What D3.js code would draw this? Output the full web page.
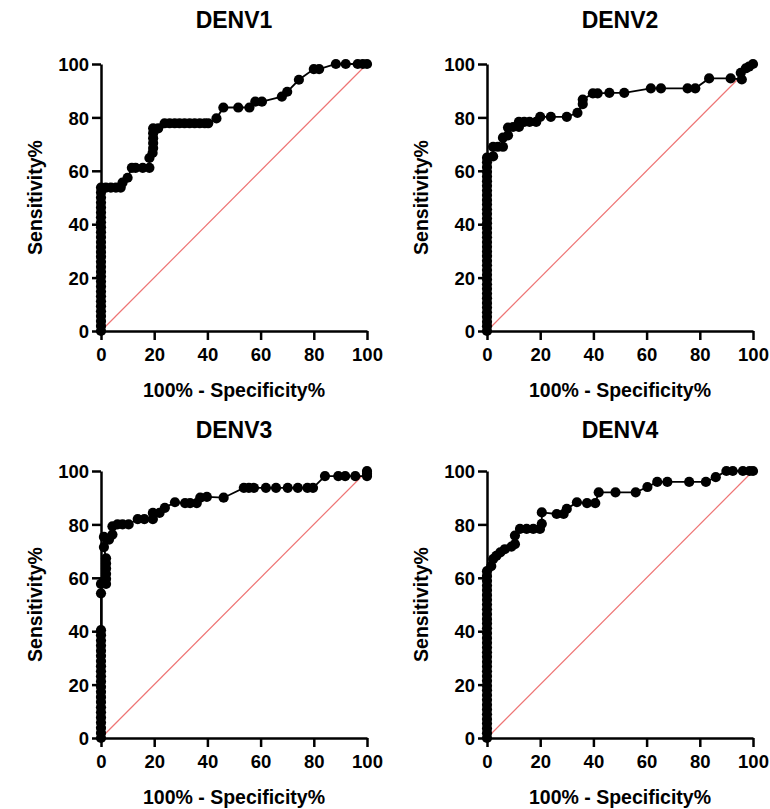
<!DOCTYPE html>
<html lang="en">
<head>
	<meta charset="UTF-8">
	<script src="https://cdn.jsdelivr.net/npm/d3@7"></script>
	<title>ROC curves DENV1-4</title>
	<style>
		body { margin: 0; background: #fff; font-family: "Liberation Sans", Arial, sans-serif; }
		.tick text { font-family: "Liberation Sans", Arial, sans-serif; font-weight: bold; font-size: 18.5px; fill: #000; }
		.domain, .tick line { stroke: #000; stroke-width: 2.5; }
		.title { font-weight: bold; font-size: 23px; }
		.alabel { font-weight: bold; font-size: 19.5px; }
	</style>
</head>
<body>
	<svg id="chart" width="770" height="809"></svg>
	<script>
		// panel titles and axis ticks
		const titles = ['DENV1', 'DENV2', 'DENV3', 'DENV4'];
		const tickValues = [0, 20, 40, 60, 80, 100];
		const xLabel = '100% - Specificity%';
		const yLabel = 'Sensitivity%';

		// DENV1 (100% - specificity, sensitivity)
		const denv1X = [0, 0, 0, 0, 0, 0, 0, 0, 0, 0, 0, 0, 0, 0, 0, 0, 0, 0, 0, 0, 0, 0, 0, 0, 0, 0, 0, 0, 0, 0,
			1.8, 3.7, 5.6, 7.4, 8.1, 10, 11.6, 13, 15.7, 18.2, 18.2, 19.4, 19.6, 19.6, 19.6, 19.6, 19.6, 21.5, 23.9,
			25.8, 27.7, 29.5, 31.4, 33.3, 35.2, 37.1, 39, 40.3, 43.4, 46, 51.6, 55.8, 58, 60.5, 68, 70, 74.4, 80, 82,
			88.3, 92, 96.5, 98.4, 100];
		const denv1Y = [0, 1.9, 3.7, 5.6, 7.4, 9.3, 11.1, 13, 14.8, 16.7, 18.5, 20.4, 22.2, 24.1, 25.9, 27.8, 29.6, 31.5, 33.3, 35.2, 37, 38.9, 40.7, 42.6, 44.4, 46.3, 48.1, 50, 51.9, 53.7,
			53.7, 53.7, 53.7, 53.7, 55.6, 57.4, 61.1, 61.1, 61.1, 61.1, 64.8, 66.7, 68.5, 70.4, 72.2, 74.1, 75.9, 75.9, 77.8,
			77.8, 77.8, 77.8, 77.8, 77.8, 77.8, 77.8, 77.8, 77.8, 79.6, 83.7, 83.7, 83.7, 85.9, 85.9, 87.8, 89.6, 94.1, 98.1, 98.1,
			100, 100, 100, 100, 100];

		// DENV2
		const denv2X = [0, 0, 0, 0, 0, 0, 0, 0, 0, 0, 0, 0, 0, 0, 0, 0, 0, 0, 0, 0, 0, 0, 0, 0, 0, 0, 0, 0, 0, 0, 0, 0, 0, 0, 0, 0, 0, 0,
			2.3, 2.3, 4.1, 6, 6, 7.9, 7.9, 9.8, 12, 12, 14, 16, 18.5, 20, 24, 30, 34, 36, 36, 39.8, 41.6, 46, 51.6,
			61.6, 65.4, 75.4, 78.3, 83.5, 91.6, 95.8, 95.4, 97.3, 98.5, 100];
		const denv2Y = [0, 1.8, 3.5, 5.3, 7, 8.8, 10.5, 12.3, 14, 15.8, 17.5, 19.3, 21.1, 22.8, 24.6, 26.3, 28.1, 29.8, 31.6, 33.3, 35.1, 36.8, 38.6, 40.4, 42.1, 43.9, 45.6, 47.4, 49.1, 50.9, 52.6, 54.4, 56.1, 57.9, 59.6, 61.4, 63.2, 64.9,
			65.4, 69, 69, 69, 72.4, 73.3, 76.2, 76.4, 76.4, 78.3, 78.3, 78.3, 78.3, 80.2, 80.2, 80.2, 81.7, 85, 86.7, 89, 89, 89.2, 89.2,
			90.9, 90.9, 90.9, 90.9, 94.6, 94.6, 94.2, 96.7, 98.4, 99, 100];

		// DENV3
		const denv3X = [0, 0, 0, 0, 0, 0, 0, 0, 0, 0, 0, 0, 0, 0, 0, 0, 0, 0, 0, 0, 0, 0,
			0, 0, 1.9, 1.9, 1.9, 1.9, 1.9, 1.9, 1.1, 1.1, 3, 4.3, 4.3, 6.2, 8.1, 10.4, 13.8, 16.3, 19.5, 19.5, 22, 24,
			27.8, 31.6, 33.5, 36, 37.3, 39.8, 46.1, 53.7, 55.6, 57.5, 62, 65.8, 70.2, 74, 77.6, 79.7, 84.2, 89.2,
			91.8, 95.6, 100, 100, 100];
		const denv3Y = [0, 1.9, 3.8, 5.8, 7.7, 9.6, 11.5, 13.5, 15.4, 17.3, 19.2, 21.2, 23.1, 25, 26.9, 28.8, 30.8, 32.7, 34.6, 36.5, 38.5, 40.4,
			54.2, 57.7, 57.7, 59.6, 61.5, 63.5, 65.4, 67.3, 71.5, 75.3, 74.3, 76.2, 79.3, 80, 80, 80, 82, 82, 82, 84.3, 84.3, 86.2,
			88.3, 88, 88, 88, 90, 90.3, 90, 93.7, 93.7, 93.7, 93.7, 93.7, 93.7, 93.7, 93.7, 93.7, 98.1, 98.1,
			98.1, 98.1, 98.1, 99, 100];

		// DENV4
		const denv4X = [0, 0, 0, 0, 0, 0, 0, 0, 0, 0, 0, 0, 0, 0, 0, 0, 0, 0, 0, 0, 0, 0, 0, 0, 0, 0, 0, 0, 0, 0, 0, 0, 0, 0, 0, 0,
			1.6, 2.3, 3.5, 5, 6.7, 9.2, 10.5, 10.5, 12.4, 14.9, 17.4, 19.9, 20.6, 20.6, 26.2, 28.8, 30, 33.8, 37.6, 40.7,
			42, 48.3, 55.9, 60.3, 64, 67.8, 76, 82.3, 86, 90, 92.4, 96.2, 98.7, 100];
		const denv4Y = [0, 1.8, 3.6, 5.4, 7.1, 8.9, 10.7, 12.5, 14.3, 16.1, 17.9, 19.6, 21.4, 23.2, 25, 26.8, 28.6, 30.4, 32.1, 33.9, 35.7, 37.5, 39.3, 41.1, 42.9, 44.6, 46.4, 48.2, 50, 51.8, 53.6, 55.4, 57.1, 58.9, 60.7, 62.5,
			64.4, 67, 68.2, 69.5, 70.7, 71.7, 72.6, 75.8, 78.3, 78.3, 78.3, 78.3, 80.2, 84.5, 83.9, 83.9, 85.8, 88.3, 88, 88,
			92, 92, 92, 94, 95.9, 95.9, 95.9, 95.9, 97.7, 100, 100, 100, 100, 100];

		const seriesX = [denv1X, denv2X, denv3X, denv4X];
		const seriesY = [denv1Y, denv2Y, denv3Y, denv4Y];

		// plot boxes (left, top), title offset above the box
		const origins = [[101, 64], [487, 64], [101, 471], [487, 471]];
		const titleOffsets = [-36, -36, -33, -33];
		const pw = 266, ph = 267;

		const svg = d3.select('#chart');

		titles.forEach((title, i) => {
			const [ox, oy] = origins[i];
			const g = svg.append('g').attr('transform', `translate(${ox},${oy})`);
			const x = d3.scaleLinear().domain([0, 100]).range([0, pw]);
			const y = d3.scaleLinear().domain([0, 100]).range([ph, 0]);

			// reference diagonal
			g.append('line')
				.attr('x1', x(0)).attr('y1', y(0))
				.attr('x2', x(100)).attr('y2', y(100))
				.attr('stroke', '#ee7474')
				.attr('stroke-width', 1.2);

			const pts = seriesX[i].map((v, j) => [v, seriesY[i][j]]);

			g.append('path')
				.datum(pts)
				.attr('fill', 'none')
				.attr('stroke', '#000')
				.attr('stroke-width', 1.8)
				.attr('d', d3.line().x(d => x(d[0])).y(d => y(d[1])));

			g.selectAll('circle')
				.data(pts)
				.enter()
				.append('circle')
				.attr('cx', d => x(d[0]))
				.attr('cy', d => y(d[1]))
				.attr('r', 5.1)
				.attr('fill', '#000');

			g.append('g')
				.attr('transform', `translate(0,${ph})`)
				.call(d3.axisBottom(x).tickValues(tickValues).tickSize(9).tickSizeOuter(0).tickPadding(8));
			g.append('g')
				.call(d3.axisLeft(y).tickValues(tickValues).tickSize(9).tickSizeOuter(0).tickPadding(3))
				.selectAll('.tick text').attr('dy', '0.36em');

			g.append('text')
				.attr('class', 'title')
				.attr('x', pw / 2)
				.attr('y', titleOffsets[i])
				.attr('text-anchor', 'middle')
				.text(title);

			g.append('text')
				.attr('class', 'alabel')
				.attr('x', pw / 2)
				.attr('y', ph + 66)
				.attr('text-anchor', 'middle')
				.text(xLabel);

			g.append('text')
				.attr('class', 'alabel')
				.attr('transform', `translate(-59,${ph / 2}) rotate(-90)`)
				.attr('text-anchor', 'middle')
				.text(yLabel);
		});
	</script>
</body>
</html>
